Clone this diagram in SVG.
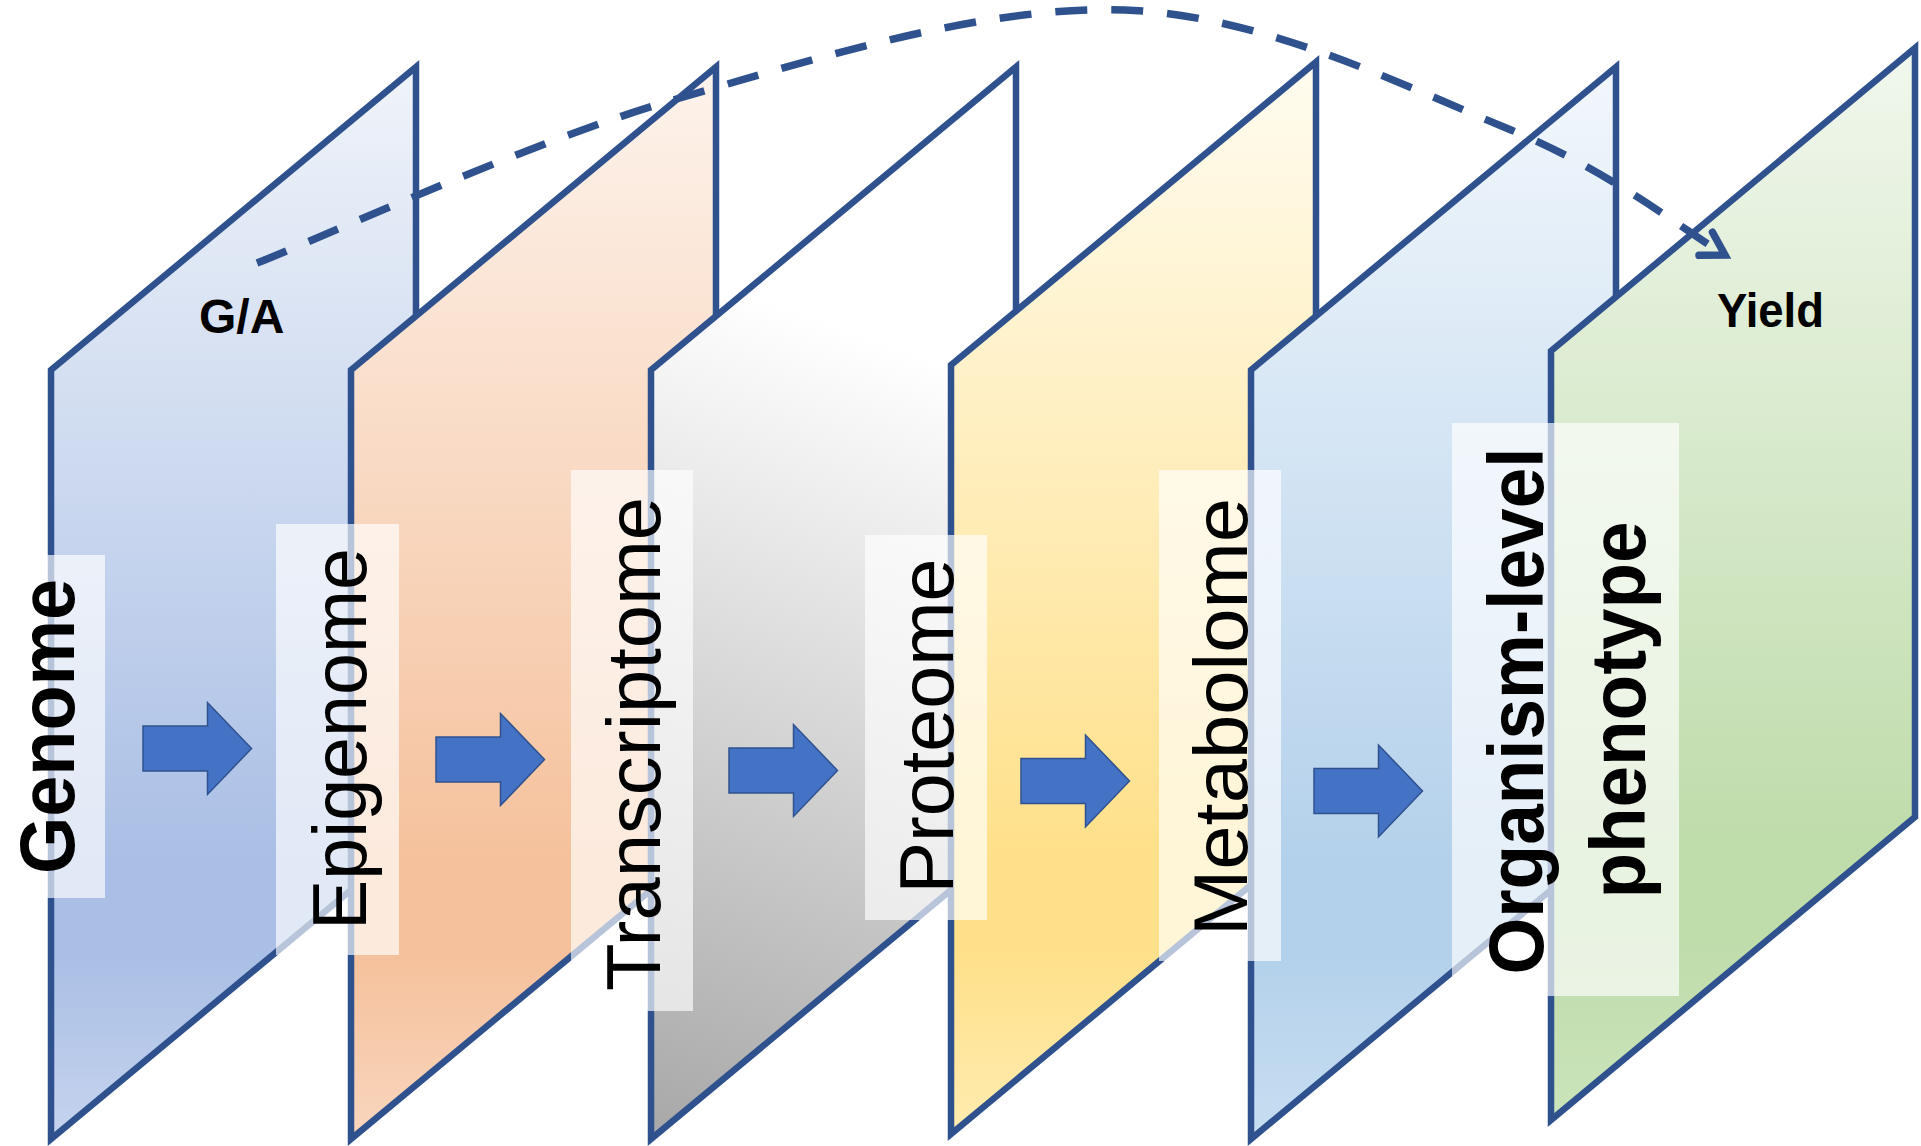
<svg xmlns="http://www.w3.org/2000/svg" width="1921" height="1146" viewBox="0 0 1921 1146">
  <style>
    .panel { stroke: #2f528f; stroke-width: 6.5; stroke-linejoin: miter; }
    .tag { fill: #ffffff; fill-opacity: 0.66; }
    .lbl { font-family: "Liberation Sans", Arial, sans-serif; font-size: 76px; fill: #000000; text-anchor: middle; }
    .bold { font-weight: bold; font-size: 78px; }
    .note { font-family: "Liberation Sans", Arial, sans-serif; font-weight: bold; font-size: 48px; fill: #000000; }
    .step { fill: #4472c4; stroke: #2f528f; stroke-width: 1.5; }
    .flow { fill: none; stroke: #2f528f; stroke-width: 7.5; stroke-dasharray: 32 24; }
  </style>
  <defs>
    <linearGradient id="g-blue" x1="0" y1="0" x2="0" y2="1">
      <stop offset="0" stop-color="#f0f4fa"/>
      <stop offset="0.74" stop-color="#aabfe5"/>
      <stop offset="0.83" stop-color="#aabfe5"/>
      <stop offset="1" stop-color="#c6d4ee"/>
    </linearGradient>
    <linearGradient id="g-orange" x1="0" y1="0" x2="0" y2="1">
      <stop offset="0" stop-color="#fdf3ec"/>
      <stop offset="0.74" stop-color="#f5c19c"/>
      <stop offset="0.83" stop-color="#f5c19c"/>
      <stop offset="1" stop-color="#f9d6be"/>
    </linearGradient>
    <linearGradient id="g-gray" gradientUnits="userSpaceOnUse" x1="850" y1="330" x2="560" y2="1130">
      <stop offset="0" stop-color="#ffffff"/>
      <stop offset="1" stop-color="#a5a5a5"/>
    </linearGradient>
    <linearGradient id="g-yellow" x1="0" y1="0" x2="0" y2="1">
      <stop offset="0" stop-color="#fffcf0"/>
      <stop offset="0.74" stop-color="#ffe08a"/>
      <stop offset="0.83" stop-color="#ffe08a"/>
      <stop offset="1" stop-color="#ffecb0"/>
    </linearGradient>
    <linearGradient id="g-sky" x1="0" y1="0" x2="0" y2="1">
      <stop offset="0" stop-color="#f2f7fc"/>
      <stop offset="0.74" stop-color="#b4d1eb"/>
      <stop offset="0.83" stop-color="#b4d1eb"/>
      <stop offset="1" stop-color="#c8def1"/>
    </linearGradient>
    <linearGradient id="g-green" x1="0" y1="0" x2="0" y2="1">
      <stop offset="0" stop-color="#f1f7ed"/>
      <stop offset="0.74" stop-color="#bfdcab"/>
      <stop offset="0.83" stop-color="#bfdcab"/>
      <stop offset="1" stop-color="#cbe4bb"/>
    </linearGradient>
    <!-- block arrow between layers -->
    <path id="step-arrow" d="M0,-22.5 L64.5,-22.5 L64.5,-46 L108.5,0 L64.5,46 L64.5,22.5 L0,22.5 Z"/>
    <marker id="open-head" markerUnits="userSpaceOnUse" viewBox="-40 -25 50 50" markerWidth="50" markerHeight="50" refX="0" refY="0" orient="auto" overflow="visible">
      <path d="M-22.3,-13.4 L0,0 L-22.3,13.4" fill="none" stroke="#2f528f" stroke-width="7.5" stroke-linecap="round" stroke-linejoin="miter"/>
    </marker>
  </defs>

  <!-- layer 1: genome -->
  <g id="node-genome">
    <path class="panel" fill="url(#g-blue)" d="M51,370 L416,67 L416,836 L51,1139 Z"/>
    <rect class="tag" x="47" y="555" width="58" height="343"/>
    <text class="lbl bold" transform="translate(74,726.5) rotate(-90)" textLength="295" lengthAdjust="spacingAndGlyphs">Genome</text>
    <text class="note" x="199" y="333">G/A</text>
  </g>

  <!-- layer 2: epigenome -->
  <g id="node-epigenome">
    <path class="panel" fill="url(#g-orange)" d="M351,370 L716,67 L716,836 L351,1139 Z"/>
    <rect class="tag" x="276" y="524" width="123" height="431"/>
    <text class="lbl" transform="translate(366,739) rotate(-90)" textLength="382" lengthAdjust="spacingAndGlyphs">Epigenome</text>
  </g>

  <!-- layer 3: transcriptome -->
  <g id="node-transcriptome">
    <path class="panel" fill="url(#g-gray)" d="M651,370 L1016,67 L1016,836 L651,1139 Z"/>
    <rect class="tag" x="571" y="470" width="122" height="541"/>
    <text class="lbl" transform="translate(660,744) rotate(-90)" textLength="494" lengthAdjust="spacingAndGlyphs">Transcriptome</text>
  </g>

  <!-- layer 4: proteome -->
  <g id="node-proteome">
    <path class="panel" fill="url(#g-yellow)" d="M951,365 L1316,62 L1316,831 L951,1134 Z"/>
    <rect class="tag" x="865" y="535" width="122" height="385"/>
    <text class="lbl" transform="translate(953,726) rotate(-90)" textLength="335" lengthAdjust="spacingAndGlyphs">Proteome</text>
  </g>

  <!-- layer 5: metabolome -->
  <g id="node-metabolome">
    <path class="panel" fill="url(#g-sky)" d="M1251,370 L1616,67 L1616,836 L1251,1139 Z"/>
    <rect class="tag" x="1159" y="470" width="122" height="491"/>
    <text class="lbl" transform="translate(1247,717) rotate(-90)" textLength="438" lengthAdjust="spacingAndGlyphs">Metabolome</text>
  </g>

  <!-- layer 6: organism-level phenotype -->
  <g id="node-phenotype">
    <path class="panel" fill="url(#g-green)" d="M1551,351 L1915,48 L1915,817 L1551,1120 Z"/>
    <rect class="tag" x="1452" y="423" width="227" height="573"/>
    <text class="lbl bold" transform="translate(1543,711) rotate(-90)" textLength="527" lengthAdjust="spacingAndGlyphs">Organism-level</text>
    <text class="lbl bold" transform="translate(1644.5,710) rotate(-90)" textLength="377" lengthAdjust="spacingAndGlyphs">phenotype</text>
    <text class="note" x="1717" y="327" font-size="50" textLength="107" lengthAdjust="spacingAndGlyphs">Yield</text>
  </g>

  <!-- connectors -->
  <g id="connectors">
    <use href="#step-arrow" class="step" transform="translate(143,748.5)"/>
    <use href="#step-arrow" class="step" transform="translate(436,759.5)"/>
    <use href="#step-arrow" class="step" transform="translate(729,770.5)"/>
    <use href="#step-arrow" class="step" transform="translate(1021,781)"/>
    <use href="#step-arrow" class="step" transform="translate(1314,791)"/>
    <path class="flow" marker-end="url(#open-head)" d="M257,263 C326.3,235.8 528.3,142.2 673,100 C817.7,57.8 985.3,5 1125,10 C1264.7,15 1411,89.2 1511,130 C1611,170.8 1689.3,234.2 1725,255"/>
  </g>
</svg>
